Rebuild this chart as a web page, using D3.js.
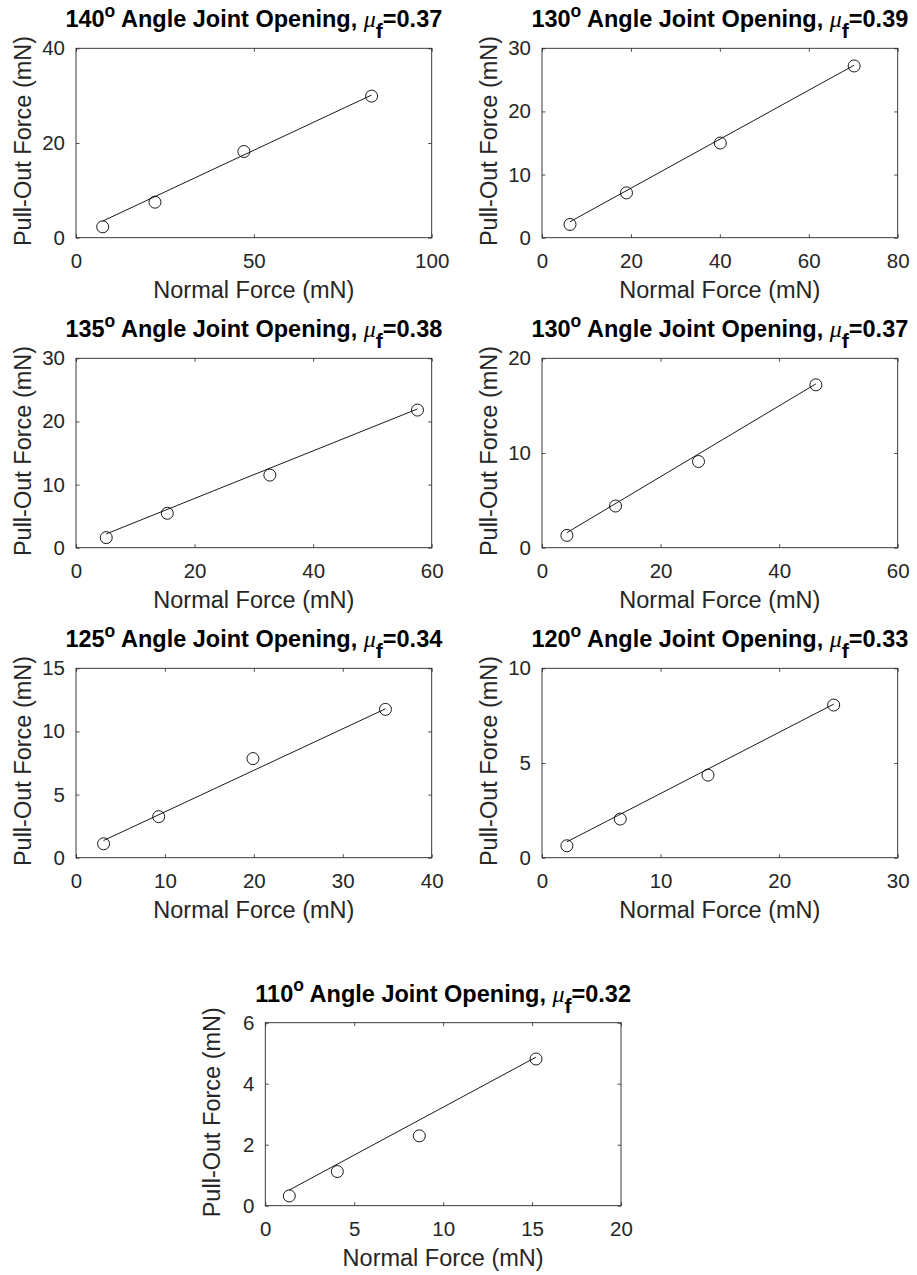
<!DOCTYPE html>
<html>
<head>
<meta charset="utf-8">
<script src="https://cdn.jsdelivr.net/npm/d3@7"></script>
<style>
  body { margin: 0; background: #fff; }
  svg { display: block; font-family: "Liberation Sans", Arial, Helvetica, sans-serif; }
</style>
</head>
<body>
<div id="chart"></div>
<script>
// Panel data
var angles       = [140, 130, 135, 130, 125, 120, 110];
var muValues     = ["0.37", "0.39", "0.38", "0.37", "0.34", "0.33", "0.32"];
var xMax         = [100, 80, 60, 60, 40, 30, 20];
var yMax         = [40, 30, 30, 20, 15, 10, 6];
var xTicks       = [
    [0, 50, 100], [0, 20, 40, 60, 80], [0, 20, 40, 60], [0, 20, 40, 60],
    [0, 10, 20, 30, 40], [0, 10, 20, 30], [0, 5, 10, 15, 20]
];
var yTicks       = [
    [0, 20, 40], [0, 10, 20, 30], [0, 10, 20, 30], [0, 10, 20],
    [0, 5, 10, 15], [0, 5, 10], [0, 2, 4, 6]
];
var normalForce  = [
    [7.5, 22.2, 47.2, 83.1],
    [6.3, 19.0, 40.1, 70.2],
    [5.1, 15.4, 32.7, 57.6],
    [4.2, 12.4, 26.4, 46.2],
    [3.1, 9.3, 19.9, 34.8],
    [2.1, 6.6, 14.0, 24.6],
    [1.35, 4.05, 8.66, 15.22]
];
var pullOutForce = [
    [2.3, 7.5, 18.2, 29.9],
    [2.1, 7.1, 15.0, 27.2],
    [1.6, 5.45, 11.5, 21.8],
    [1.3, 4.4, 9.1, 17.2],
    [1.1, 3.25, 7.85, 11.75],
    [0.63, 2.04, 4.36, 8.06],
    [0.32, 1.12, 2.29, 4.81]
];
var fitSlope     = [0.352, 0.388, 0.377, 0.374, 0.329, 0.323, 0.314];
var fitIntercept = [0.87, 0.08, 0.26, 0.02, 0.34, 0.16, 0.09];

// Layout
var chart_width  = 917;
var chart_height = 1275;
var panelX = [76, 542, 76, 542, 76, 542, 265.3];
var panelY = [48.3, 48.3, 358.3, 358.3, 668.3, 668.3, 1022.7];
var panelW = 355.7;
var panelH = [189.4, 189.4, 189.4, 189.4, 189.4, 189.4, 183];
var axisColor = '#262626';
var tickLen = 3.5;
var fmt = d3.format("~g");

var svg = d3.select("#chart")
    .append("svg")
    .attr("width", chart_width)
    .attr("height", chart_height);

angles.forEach(function(angle, i){
    var w = panelW, h = panelH[i];
    var g = svg.append("g")
        .attr("transform", "translate(" + panelX[i] + "," + panelY[i] + ")");

    var x = d3.scaleLinear().domain([0, xMax[i]]).range([0, w]);
    var y = d3.scaleLinear().domain([0, yMax[i]]).range([h, 0]);

    // axes, ticks pointing inward on all four sides
    var bottom = g.append("g")
        .attr("transform", "translate(0," + h + ")")
        .call(d3.axisBottom(x).tickValues(xTicks[i]).tickFormat(fmt)
            .tickSizeInner(-tickLen).tickSizeOuter(0).tickPadding(16));
    var top = g.append("g")
        .call(d3.axisTop(x).tickValues(xTicks[i]).tickSizeInner(-tickLen).tickSizeOuter(0).tickFormat(""));
    var left = g.append("g")
        .call(d3.axisLeft(y).tickValues(yTicks[i]).tickFormat(fmt)
            .tickSizeInner(-tickLen).tickSizeOuter(0).tickPadding(11));
    var right = g.append("g")
        .attr("transform", "translate(" + w + ",0)")
        .call(d3.axisRight(y).tickValues(yTicks[i]).tickSizeInner(-tickLen).tickSizeOuter(0).tickFormat(""));

    [bottom, top, left, right].forEach(function(a){
        a.select(".domain").remove();
        a.selectAll(".tick line").attr("stroke", axisColor).attr("stroke-width", 0.8);
        a.selectAll(".tick text")
            .attr("fill", axisColor)
            .style("font-size", "20.5px")
            .style("font-family", '"Liberation Sans", Arial, sans-serif');
    });

    g.append("rect")
        .attr("x", 0).attr("y", 0)
        .attr("width", w).attr("height", h)
        .attr("fill", "none")
        .attr("stroke", axisColor)
        .attr("stroke-width", 0.9);

    // fitted line
    var xs = normalForce[i];
    var x0 = xs[0], x1 = xs[xs.length - 1];
    g.append("line")
        .attr("x1", x(x0)).attr("y1", y(fitIntercept[i] + fitSlope[i] * x0))
        .attr("x2", x(x1)).attr("y2", y(fitIntercept[i] + fitSlope[i] * x1))
        .attr("stroke", "#000")
        .attr("stroke-width", 0.9);

    // measured points
    g.selectAll("circle")
        .data(xs.map(function(d, k){ return [d, pullOutForce[i][k]]; }))
        .enter()
        .append("circle")
        .attr("cx", function(d){ return x(d[0]); })
        .attr("cy", function(d){ return y(d[1]); })
        .attr("r", 6)
        .attr("fill", "none")
        .attr("stroke", "#000")
        .attr("stroke-width", 0.9);

    // axis labels
    g.append("text")
        .attr("x", w / 2)
        .attr("y", h + 60)
        .attr("text-anchor", "middle")
        .attr("fill", axisColor)
        .style("font-size", "23.5px")
        .text("Normal Force (mN)");

    g.append("text")
        .attr("transform", "translate(-45," + (h / 2 - 2) + ") rotate(-90)")
        .attr("text-anchor", "middle")
        .attr("fill", axisColor)
        .style("font-size", "23.5px")
        .text("Pull-Out Force (mN)");

    // title
    var t = g.append("text")
        .attr("x", w / 2)
        .attr("y", -21)
        .attr("text-anchor", "middle")
        .attr("fill", "#000")
        .style("font-size", "23.5px")
        .style("font-weight", "bold");
    t.append("tspan").text(angle);
    t.append("tspan").attr("dy", -10.5).style("font-size", "17.5px").text("o");
    t.append("tspan").attr("dy", 10.5).text(" Angle Joint Opening, ");
    t.append("tspan")
        .style("font-family", '"Liberation Serif", "DejaVu Serif", serif')
        .style("font-style", "italic")
        .style("font-weight", "normal")
        .style("font-size", "24px")
        .text("\u03bc");
    t.append("tspan").attr("dy", 11).style("font-size", "21px").text("f");
    t.append("tspan").attr("dy", -11).text("=" + muValues[i]);
});
</script>
</body>
</html>
